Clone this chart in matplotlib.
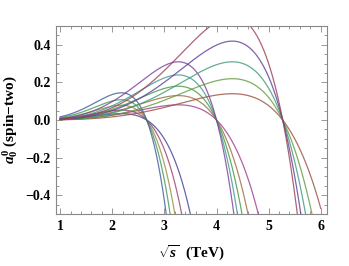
import numpy as np
import matplotlib
matplotlib.use("Agg")
import matplotlib.pyplot as plt
from matplotlib.ticker import MultipleLocator

# values
# sqrt(s) where each family of curves crosses zero (TeV)
crossings = [2.66, 4.0, 5.27]
# peak height of each curve, smallest to largest, one list per family
peaks_g1 = [0.034, 0.053, 0.079, 0.108, 0.145]
peaks_g2 = [0.081, 0.13, 0.18, 0.24, 0.31]
peaks_g3 = [0.14, 0.22, 0.31, 0.42, 0.55]

# Mathematica (v6-9) default plot colours, in plotting order
mma_colors = [
    (0.247, 0.24, 0.6), (0.6, 0.24, 0.443), (0.6, 0.547, 0.24), (0.24, 0.6, 0.337),
    (0.24, 0.353, 0.6), (0.6, 0.24, 0.563), (0.6, 0.426, 0.24), (0.263, 0.6, 0.24),
    (0.24, 0.6, 0.573), (0.474, 0.24, 0.6), (0.6, 0.306, 0.24), (0.384, 0.6, 0.24),
    (0.24, 0.6, 0.45), (0.352, 0.24, 0.6), (0.6, 0.24, 0.32),
]

plt.rcParams["font.family"] = "Liberation Serif"
plt.rcParams["font.weight"] = "bold"
plt.rcParams["mathtext.fontset"] = "custom"
plt.rcParams["mathtext.rm"] = "Liberation Serif:bold"
plt.rcParams["mathtext.it"] = "Liberation Serif:bold:italic"
plt.rcParams["mathtext.bf"] = "Liberation Serif:bold"


def shape(x, x0):
    # ~ s^2 (x0^2 - s), normalised to a peak of 1
    u = x / x0
    g = u**4 * (1 - u**2)
    return g / (4.0 / 27.0)


fig = plt.figure(figsize=(3.49, 2.66), dpi=100)
ax = fig.add_axes([0.1605, 0.1955, 0.7765, 0.7065])

x = np.linspace(1, 6, 800)
k = 0
for x0, peaks in zip(crossings, [peaks_g1, peaks_g2, peaks_g3]):
    for p in peaks:
        ax.plot(x, p * shape(x, x0), color=mma_colors[k], lw=0.9, alpha=0.8)
        k += 1

ax.set_xlim(0.92, 6.12)
ax.set_ylim(-0.5, 0.5)

frame_col = "#888888"
for s in ax.spines.values():
    s.set_color(frame_col)
    s.set_linewidth(0.8)
ax.xaxis.set_major_locator(MultipleLocator(1))
ax.xaxis.set_minor_locator(MultipleLocator(0.2))
ax.yaxis.set_major_locator(MultipleLocator(0.2))
ax.yaxis.set_minor_locator(MultipleLocator(0.05))
ax.yaxis.set_major_formatter(lambda v, pos: ("%.1f" % v).replace("-", "\u2212"))
ax.tick_params(which="both", direction="in", top=True, right=True, color=frame_col,
               labelsize=10, width=0.6)
ax.tick_params(which="major", length=4.5, pad=4)
ax.tick_params(which="minor", length=2.5)

ax.set_xlabel(r"$\sqrt{s}$  (TeV)", fontsize=11, fontweight="bold", labelpad=8)
ax.set_ylabel(r"$a_0^0$ (spin$-$two)", fontsize=11, fontweight="bold", labelpad=4)

fig.savefig("out.png", dpi=100)
